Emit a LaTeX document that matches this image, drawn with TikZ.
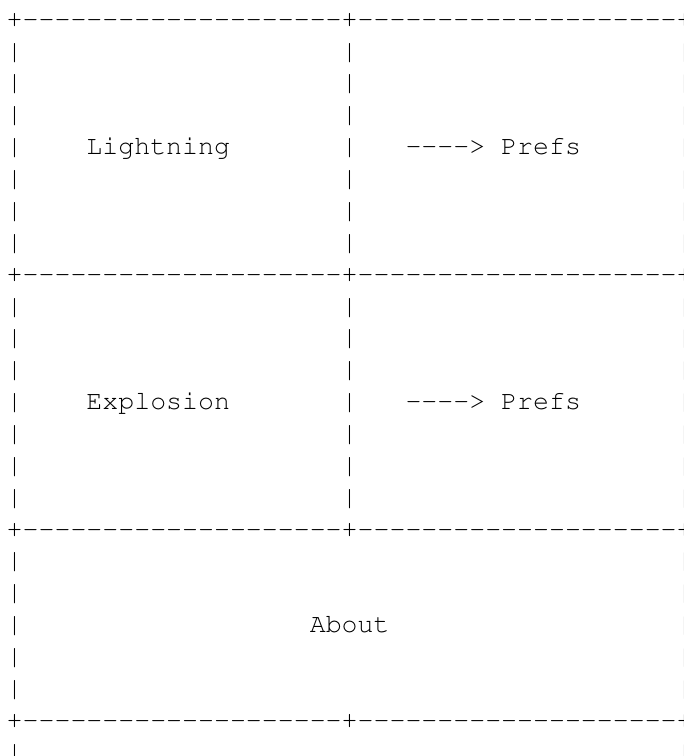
\documentclass[tikz,border=0pt]{standalone}
\usepackage[T1]{fontenc}
\usepackage{courier}
\newcommand\dashrun[1]{\count255=0 \loop\ifnum\count255<#1 -{}\advance\count255 by 1 \repeat}
\newcommand\cellat[2]{{5.03pt+11.964pt*(#1)},{-20.4pt-23.9pt*(#2)}}
\tikzset{ascii/.style={inner sep=0pt, outer sep=0pt, anchor=base west, font=\fontsize{19.94}{23.9}\selectfont\ttfamily}}
\begin{document}
\begin{tikzpicture}
\path[use as bounding box] (0,0) rectangle (513pt,-567pt);
\clip (0,0) rectangle (513pt,-567pt);
% borders
\foreach \r in {0,8,16,22}
  \node[ascii] (border\r) at (\cellat{0}{\r}) {+\dashrun{20}+\dashrun{20}+};
% vertical bars, upper two rows of cells
\foreach \r in {1,...,7,9,10,11,12,13,14,15}
  \foreach \c in {0,21,42}
    \node[ascii] (bar\r-\c) at (\cellat{\c}{\r}) {|};
% vertical bars, About cell and below
\foreach \r in {17,...,21,23}
  \foreach \c in {0,42}
    \node[ascii] (bar\r-\c) at (\cellat{\c}{\r}) {|};
% texts
\node[ascii] (lightning) at (\cellat{5}{4}) {Lightning};
\node[ascii] (arrow1) at (\cellat{25}{4}) {\dashrun{4}>};
\node[ascii] (prefs1) at (\cellat{31}{4}) {Prefs};
\node[ascii] (explosion) at (\cellat{5}{12}) {Explosion};
\node[ascii] (arrow2) at (\cellat{25}{12}) {\dashrun{4}>};
\node[ascii] (prefs2) at (\cellat{31}{12}) {Prefs};
\node[ascii] (about) at (\cellat{19}{19}) {About};
\end{tikzpicture}
\end{document}
